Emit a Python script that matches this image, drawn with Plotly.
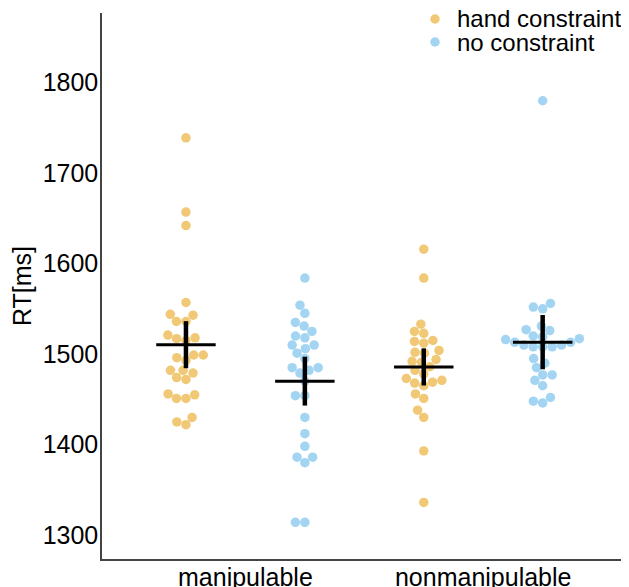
import numpy as np
import plotly.graph_objects as go

# ---------------- data ----------------
categories = ["manipulable", "nonmanipulable"]
conditions = ["hand constraint", "no constraint"]

hand_manip = [1739, 1657, 1642, 1557, 1544, 1543, 1536, 1536, 1521, 1518, 1517, 1515,
              1499, 1499, 1496, 1493, 1482, 1482, 1479, 1474, 1472, 1456, 1455, 1451,
              1451, 1430, 1425, 1422]
no_manip = [1584, 1554, 1545, 1535, 1531, 1525, 1520, 1518, 1510, 1510, 1506, 1501,
            1495, 1485, 1485, 1482, 1479, 1470, 1454, 1454, 1430, 1412, 1398, 1386,
            1386, 1380, 1314, 1314]
hand_nonmanip = [1616, 1584, 1533, 1525, 1523, 1515, 1514, 1512, 1504, 1502, 1501, 1494,
                 1492, 1491, 1486, 1482, 1478, 1473, 1471, 1469, 1468, 1465, 1456, 1451,
                 1438, 1430, 1393, 1336]
no_nonmanip = [1780, 1556, 1552, 1550, 1531, 1527, 1526, 1520, 1519, 1517, 1516, 1513,
               1513, 1510, 1510, 1508, 1508, 1508, 1495, 1490, 1485, 1477, 1477, 1471,
               1465, 1452, 1448, 1446]

# error-bar half widths (ms)
err_hand = [26, 20.5]
err_no = [27, 30]

y_ticks = [1300, 1400, 1500, 1600, 1700, 1800]

# ---------------- layout constants ----------------
PAGE = 8                     # default body margin of the html page
SCR_W, SCR_H = 629, 587      # screenshot size
P_L, P_R, P_T, P_B = 102, 629, 13, 559   # plot area in screenshot pixels
W, H = SCR_W - PAGE, SCR_H - PAGE
ML, MR, MT, MB = P_L - PAGE, SCR_W - P_R, P_T - PAGE, SCR_H - P_B
PW, PH = P_R - P_L, P_B - P_T

x_range = [-0.603, 1.613]
y_range = [1273.5, 1877]
dodge = 0.25
mean_half = 0.125
marker_d = 9.5

col_hand = "rgb(241,201,118)"
col_no = "rgb(163,213,242)"
FONT = "Liberation Sans, Arial, sans-serif"

px_per_x = PW / (x_range[1] - x_range[0])
px_per_y = PH / (y_range[1] - y_range[0])


def swarm_offsets(values, d):
    """Simple beeswarm: place points (ascending) as close to the centre as possible."""
    vals = np.asarray(values, dtype=float)
    order = np.argsort(vals, kind="stable")
    placed = []
    offs = np.zeros(len(vals))
    for i in order:
        y = vals[i] * px_per_y
        cands = [0.0]
        for (px, py) in placed:
            dy = abs(py - y)
            if dy < d:
                dx = np.sqrt(d * d - dy * dy)
                cands += [px - dx, px + dx]
        cands.sort(key=lambda c: (abs(c), c))
        for c in cands:
            if all((c - px) ** 2 + (y - py) ** 2 >= d * d - 1e-6 for px, py in placed):
                offs[i] = c
                break
        placed.append((offs[i], y))
    return offs / px_per_x


groups = {
    "hand constraint": ([hand_manip, hand_nonmanip], err_hand, col_hand, -dodge),
    "no constraint": ([no_manip, no_nonmanip], err_no, col_no, dodge),
}

fig = go.Figure()

# points
for name, (series, errs, col, shift) in groups.items():
    xs, ys = [], []
    for ci, vals in enumerate(series):
        offs = swarm_offsets(vals, marker_d)
        xs += list(ci + shift + offs)
        ys += list(vals)
    fig.add_trace(go.Scatter(
        x=xs, y=ys, mode="markers", name=name, showlegend=False,
        marker=dict(size=marker_d, color=col, line=dict(width=0)),
    ))

# means and error bars
for name, (series, errs, col, shift) in groups.items():
    for ci, vals in enumerate(series):
        m = float(np.mean(vals))
        xc = ci + shift
        fig.add_trace(go.Scatter(
            x=[xc, xc], y=[m - errs[ci], m + errs[ci]], mode="lines",
            line=dict(color="black", width=4.5), showlegend=False, hoverinfo="skip"))
        fig.add_trace(go.Scatter(
            x=[xc - mean_half, xc + mean_half], y=[m, m], mode="lines",
            line=dict(color="black", width=3), showlegend=False, hoverinfo="skip"))

# custom legend (compact spacing like the reference)
leg_y = [(P_B - 19) / PH, (P_B - 42) / PH]
leg_mx = (435 - P_L) / PW
leg_tx = (456 - P_L) / PW
for (name, (series, errs, col, shift)), ly in zip(groups.items(), leg_y):
    fig.add_shape(type="circle", xref="paper", yref="paper",
                  xsizemode="pixel", ysizemode="pixel",
                  xanchor=leg_mx, yanchor=ly,
                  x0=-marker_d / 2, x1=marker_d / 2, y0=-marker_d / 2, y1=marker_d / 2,
                  fillcolor=col, line=dict(width=0))
    fig.add_annotation(x=leg_tx, y=ly, xref="paper", yref="paper", text=name,
                       showarrow=False, xanchor="left", yanchor="middle", borderpad=0,
                       font=dict(family=FONT, size=24, color="black"))

fig.update_layout(
    width=W, height=H,
    margin=dict(l=ML, r=MR, t=MT, b=MB, pad=0),
    plot_bgcolor="white", paper_bgcolor="white",
    showlegend=False,
    font=dict(family=FONT, size=25, color="black"),
)
fig.update_xaxes(
    range=x_range, tickmode="array", tickvals=[0, 1], ticktext=categories,
    showline=True, linecolor="#444", linewidth=1.5, mirror=False,
    ticks="", ticklabelstandoff=-5, automargin=False,
    showgrid=False, zeroline=False,
    tickfont=dict(family=FONT, size=25, color="black"),
)
fig.update_yaxes(
    range=y_range, tickmode="array", tickvals=y_ticks,
    showline=True, linecolor="#444", linewidth=1.5,
    ticks="", ticklabelstandoff=-3, automargin=False,
    showgrid=False, zeroline=False,
    tickfont=dict(family=FONT, size=25, color="black"),
    title=dict(text="RT[ms]", font=dict(family=FONT, size=25, color="black"), standoff=10),
)

fig.write_html("out.html")
